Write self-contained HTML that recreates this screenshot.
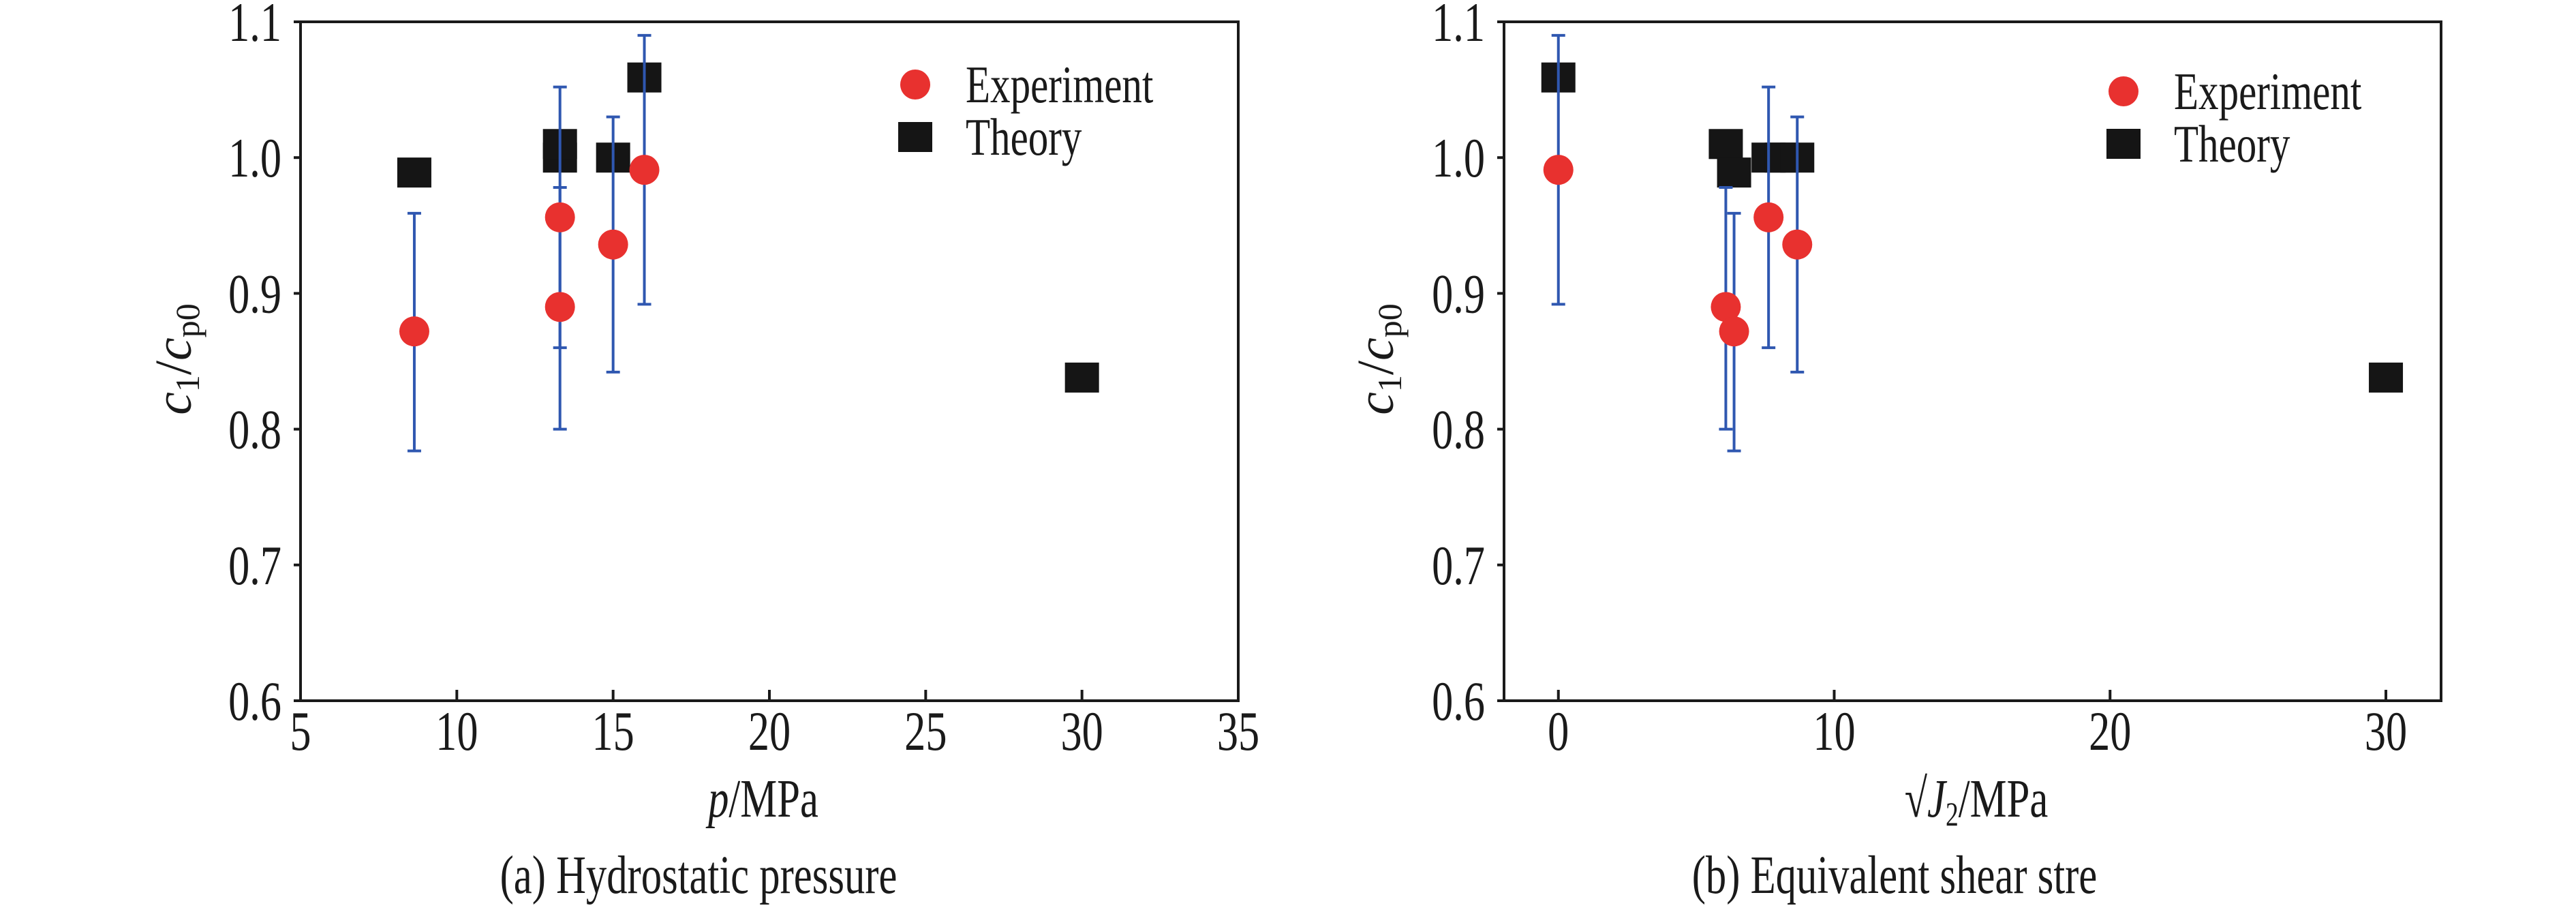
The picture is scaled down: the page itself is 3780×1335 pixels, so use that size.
<!DOCTYPE html>
<html><head><meta charset="utf-8"><style>
html,body{margin:0;padding:0;background:#fff;}
svg{display:block;font-family:"Liberation Serif","DejaVu Serif",serif;}
svg text{font-family:"Liberation Serif","DejaVu Serif",serif;}
</style></head><body>
<svg id="fig" width="3780" height="1335" viewBox="0 0 3780 1335"></svg>
<script>
// Panel (a) data
const expAX = [8.64, 13.3, 13.3, 15.0, 16.0];
const expAY = [0.872, 0.956, 0.890, 0.936, 0.991];
const expAHi = [0.959, 1.052, 0.978, 1.030, 1.090];
const expALo = [0.784, 0.860, 0.800, 0.842, 0.892];
const thAX = [8.64, 13.3, 13.3, 15.0, 16.0, 30.0];
const thAY = [0.989, 1.0, 1.01, 1.0, 1.059, 0.838];
const xTicksA = [5, 10, 15, 20, 25, 30, 35];
// Panel (b) data
const expBX = [0, 6.07, 6.37, 7.62, 8.66];
const expBY = [0.991, 0.890, 0.872, 0.956, 0.936];
const expBHi = [1.090, 0.978, 0.959, 1.052, 1.030];
const expBLo = [0.892, 0.800, 0.784, 0.860, 0.842];
const thBX = [0, 6.07, 6.37, 7.62, 8.1, 8.66, 30.0];
const thBY = [1.059, 1.01, 0.989, 1.0, 1.0, 1.0, 0.838];
const xTicksB = [0, 10, 20, 30];
const yTicks = [0.6, 0.7, 0.8, 0.9, 1.0, 1.1];

const NS = "http://www.w3.org/2000/svg";
const svg = document.getElementById('fig');
const FF = '"Liberation Serif", "DejaVu Serif", serif';
function mk(tag, attrs, parent, txt){
  const e = document.createElementNS(NS, tag);
  for (const k in attrs) e.setAttribute(k, attrs[k]);
  if (tag === 'text') e.setAttribute('font-family', FF);
  if (txt !== undefined) e.textContent = txt;
  (parent||svg).appendChild(e);
  return e;
}
// condensed text helper: place at (x,y) with horizontal squeeze
function ctext(x, y, attrs, parent, txt){
  const a = Object.assign({x:0, y:0, transform:`translate(${x},${y}) scale(0.82,1.08)`}, attrs);
  return mk('text', a, parent, txt);
}
function panel(o){
  const g = mk('g', {});
  
  
  const sx = v => o.x0 + (v - o.xmin) / (o.xmax - o.xmin) * (o.x1 - o.x0);
  const sy = v => o.y1 - (v - 0.6) / 0.5 * (o.y1 - o.y0);
  const frame = mk('rect', {x:o.x0, y:o.y0, width:o.x1-o.x0, height:o.y1-o.y0, fill:'none', stroke:'#1a1a1a', 'stroke-width':4}, g);
  
  
  o.xt.forEach(t => {
    const x = sx(t);
    mk('line', {x1:x, x2:x, y1:o.y1, y2:o.y1-16, stroke:'#1a1a1a', 'stroke-width':4}, g);
    const lb = ctext(x, 1100, {'font-size':76, 'text-anchor':'middle', fill:'#1a1a1a'}, g, String(t));
    
    
  });
  yTicks.forEach(t => {
    const y = sy(t);
    mk('line', {x1:o.x0, x2:o.x0-10, y1:y, y2:y, stroke:'#1a1a1a', 'stroke-width':4}, g);
    const lb = ctext(o.x0-28, y+28, {'font-size':76, 'text-anchor':'end', fill:'#1a1a1a'}, g, t.toFixed(1));
    
    
  });
  o.tx.forEach((v, i) => {
    const r = mk('rect', {x:sx(v)-25, y:sy(o.ty[i])-22, width:50, height:44, fill:'#151515'}, g);
    
    
  });
  o.ex.forEach((v, i) => {
    const x = sx(v), yh = sy(o.eh[i]), yl = sy(o.el[i]);
    const eb = mk('g', {stroke:'#2f57b0', 'stroke-width':4}, g);
    
    
    mk('line', {x1:x, x2:x, y1:yh, y2:yl}, eb);
    mk('line', {x1:x-10, x2:x+10, y1:yh, y2:yh}, eb);
    mk('line', {x1:x-10, x2:x+10, y1:yl, y2:yl}, eb);
  });
  o.ex.forEach((v, i) => {
    const c = mk('ellipse', {cx:sx(v), cy:sy(o.ey[i]), rx:22, ry:22, fill:'#e8312f'}, g);
    
    
  });
  const lg = mk('g', {}, g);
  
  
  mk('ellipse', {cx:o.lx, cy:o.ly, rx:22, ry:22, fill:'#e8312f'}, lg);
  ctext(o.lx+74, o.ly+26, {'font-size':72, fill:'#1a1a1a'}, lg, 'Experiment');
  mk('rect', {x:o.lx-25, y:o.ly+77-22, width:50, height:44, fill:'#151515'}, lg);
  ctext(o.lx+74, o.ly+77+26, {'font-size':72, fill:'#1a1a1a'}, lg, 'Theory');
  const yt = mk('text', {transform:`translate(${o.ytx},527) rotate(-90)`, 'font-size':76, 'text-anchor':'middle', fill:'#1a1a1a'}, g);
  
  
  yt.innerHTML = '<tspan font-style="italic">c</tspan><tspan font-size="50" dy="12">1</tspan><tspan dy="-12">/</tspan><tspan font-style="italic">c</tspan><tspan font-size="50" dy="12">p0</tspan>';
  const xt = ctext(o.xtx, 1198, {'font-size':74, 'text-anchor':'middle', fill:'#1a1a1a'}, g);
  
  
  xt.innerHTML = o.xtitle;
  const cap = ctext(o.cx, 1310, {'font-size':74, 'text-anchor':'middle', fill:'#1a1a1a'}, g, o.caption);
  
  
}
panel({name:'panel-a-hydrostatic', x0:441, x1:1817, y0:32, y1:1028, xmin:5, xmax:35, xt:xTicksA,
  ex:expAX, ey:expAY, eh:expAHi, el:expALo, tx:thAX, ty:thAY, lx:1343, ly:124, ytx:280,
  xtx:1120, xtitle:'<tspan font-style="italic">p</tspan>/MPa', cx:1025, caption:'(a) Hydrostatic pressure'});
panel({name:'panel-b-shear', x0:2207, x1:3582, y0:32, y1:1028, xmin:-1.97, xmax:32, xt:xTicksB,
  ex:expBX, ey:expBY, eh:expBHi, el:expBLo, tx:thBX, ty:thBY, lx:3116, ly:134, ytx:2044,
  xtx:2900, xtitle:'√<tspan font-style="italic">J</tspan><tspan font-size="46" dy="12">2</tspan><tspan dy="-12">/MPa</tspan>', cx:2780, caption:'(b) Equivalent shear stre'});
</script>
</body></html>
